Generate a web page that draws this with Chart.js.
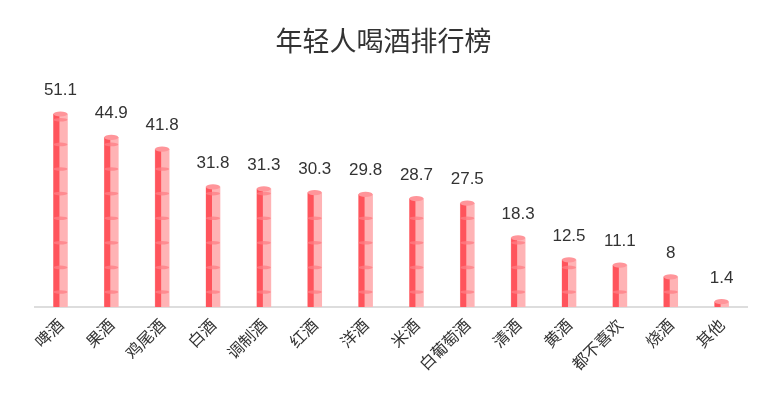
<!DOCTYPE html>
<html>
<head>
<meta charset="utf-8">
<script src="https://cdn.jsdelivr.net/npm/chart.js@4/dist/chart.umd.min.js"></script>
<style>
html,body{margin:0;padding:0;background:#fff;}
#wrap{width:767px;height:406px;}
</style>
</head>
<body>
<div id="wrap"><canvas id="c" width="767" height="406"></canvas></div>
<script>
const titleText = '年轻人喝酒排行榜';
const categories = ['啤酒','果酒','鸡尾酒','白酒','调制酒','红酒','洋酒','米酒','白葡萄酒','清酒','黄酒','都不喜欢','烧酒','其他'];
const values = [51.1, 44.9, 41.8, 31.8, 31.3, 30.3, 29.8, 28.7, 27.5, 18.3, 12.5, 11.1, 8, 1.4];

const FONT = '"Noto Sans CJK SC", "Noto Sans", sans-serif';
const NUMFONT = '"Liberation Sans", "Noto Sans CJK SC", sans-serif';

const decoPlugin = {
  id: 'deco',
  afterDatasetsDraw(chart) {
    const ctx = chart.ctx;
    const meta = chart.getDatasetMeta(0);
    ctx.save();
    meta.data.forEach((bar, i) => {
      const w = bar.width, x0 = bar.x - w / 2, top = bar.y, base = bar.base;
      const dark = Math.round(w * 0.43);
      ctx.fillStyle = '#ff545c';
      ctx.fillRect(x0, top, dark, base - top);
      const step = 24.6;
      for (let y = base - 15; y > top + 4; y -= step) {
        ctx.fillStyle = 'rgba(255,125,132,0.75)';
        ctx.beginPath();
        ctx.ellipse(bar.x, y, w / 2, 1.8, 0, 0, Math.PI * 2);
        ctx.fill();
      }
      ctx.fillStyle = '#ff959a';
      ctx.beginPath();
      ctx.ellipse(bar.x, top, w / 2, 2.6, 0, 0, Math.PI * 2);
      ctx.fill();
      ctx.fillStyle = '#333';
      ctx.font = '17px ' + NUMFONT;
      ctx.textAlign = 'center';
      ctx.textBaseline = 'alphabetic';
      ctx.fillText(String(values[i]), bar.x, top - 19);
    });
    ctx.restore();
  }
};

new Chart(document.getElementById('c'), {
  type: 'bar',
  data: {
    labels: categories,
    datasets: [{
      data: values,
      backgroundColor: '#ffb3b5',
      barThickness: 14,
      borderWidth: 0
    }]
  },
  options: {
    responsive: false,
    animation: false,
    layout: { padding: { left: 20, right: 20, top: 0, bottom: 0 } },
    plugins: {
      legend: { display: false },
      tooltip: { enabled: false },
      title: {
        display: true,
        text: titleText,
        color: '#333',
        font: { family: FONT, size: 27, weight: 'normal' },
        padding: { top: 25, bottom: 23 }
      }
    },
    scales: {
      x: {
        grid: { display: false, drawTicks: false },
        border: { color: '#dddddd', width: 2 },
        ticks: {
          color: '#333',
          font: { family: FONT, size: 16 },
          minRotation: 45,
          maxRotation: 45,
          padding: 8,
          autoSkip: false
        },
        afterFit(scale) { scale.height = 99; }
      },
      y: {
        display: true,
        min: 0,
        max: 60,
        grid: { display: false, drawTicks: false },
        border: { display: false },
        ticks: { display: false },
        afterFit(scale) { scale.width = 15; }
      }
    }
  },
  plugins: [decoPlugin]
});
</script>
</body>
</html>
